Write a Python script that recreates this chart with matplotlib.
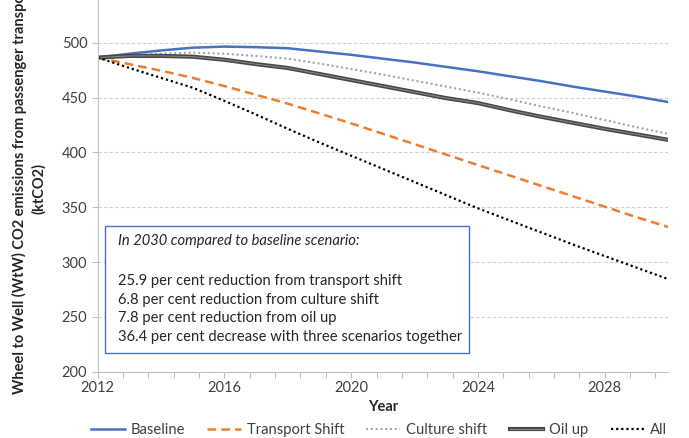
import numpy as np
import matplotlib
matplotlib.use('Agg')
import matplotlib.pyplot as plt
import matplotlib.patheffects as pe
from matplotlib.patches import Rectangle

plt.rcParams['font.family'] = ['Lato', 'DejaVu Sans']

# ── data ──────────────────────────────────────────────────────────────────────
years = list(range(2012, 2031))

baseline = [486.5, 490, 493, 495.5, 496.5, 496, 495, 492, 489, 485.5,
            482, 478, 474, 469.5, 465, 460, 455.5, 451, 446]
transport_shift = [486.5, 480.5, 474.5, 468, 460.5, 452.5, 444.5, 435.5, 426.5,
                   417, 407.5, 398, 388.5, 379, 369.5, 360, 350.5, 341, 332]
culture_shift = [486.5, 488.5, 490, 491, 490, 488, 485.5, 481, 476, 471,
                 465.5, 460, 454.5, 448.5, 442, 436, 429.5, 423, 417]
oil_up = [486.5, 488, 488, 487.3, 484.5, 480.5, 477, 471.5, 466, 460.5,
          455, 449.5, 445, 438.5, 432.5, 427, 421.5, 416.5, 411.5]
all_three = [486.5, 477, 468, 459, 447, 434.5, 421.5, 409, 397, 385,
             373, 361, 349, 338, 327, 316, 305.5, 295, 284.5]

y_ticks = [200, 250, 300, 350, 400, 450, 500]
x_labels = [2012, 2016, 2020, 2024, 2028]

note_title = 'In 2030 compared to baseline scenario:'
note_lines = ['25.9 per cent reduction from transport shift',
              '6.8 per cent reduction from culture shift',
              '7.8 per cent reduction from oil up',
              '36.4 per cent decrease with three scenarios together']

# ── figure ────────────────────────────────────────────────────────────────────
W, H = 689, 438
fig = plt.figure(figsize=(W / 100, H / 100), dpi=100)
ax = fig.add_axes([97.7 / W, 1 - 371.7 / H, (668 - 97.7) / W, 371.7 / H])

ax.plot(years, baseline, color='#4472C4', linewidth=1.8, label='Baseline')
ax.plot(years, transport_shift, color='#ED7D31', linewidth=1.8,
        linestyle=(0, (3.5, 2)), label='Transport Shift')
ax.plot(years, culture_shift, color='#A5A5A5', linewidth=1.5,
        linestyle=(0, (1, 1.3)), label='Culture shift')
ax.plot(years, oil_up, color='#8a8a8a', linewidth=0.7, label='Oil up',
        path_effects=[pe.Stroke(linewidth=3.0, foreground='#484848'),
                      pe.Normal()])
ax.plot(years, all_three, color='black', linewidth=1.6,
        linestyle=(0, (1, 1.3)), label='All')

ax.set_xlim(2012, 2030)
ax.set_ylim(200, 539)

# ticks every 0.8 year, labels every 4 years (as in the original)
xt = np.arange(2012, 2030.01, 0.8)
ax.set_xticks(xt)
ax.set_xticklabels([str(int(round(t))) if abs(t - round(t)) < 1e-6
                    and round(t) in x_labels else '' for t in xt])
ax.set_yticks(y_ticks)
ax.tick_params(axis='both', colors='#bfbfbf', length=4, width=0.8,
               labelcolor='#404040', labelsize=10.5)
ax.tick_params(axis='x', pad=3)

for y in y_ticks[1:]:
    ax.axhline(y, color='#d0d0d0', linewidth=0.8, linestyle=(0, (3, 2)),
               zorder=0)

ax.spines[['top', 'right']].set_visible(False)
ax.spines['left'].set_color('#bfbfbf')
ax.spines['bottom'].set_color('#bfbfbf')

ax.set_xlabel('Year', fontweight='bold', fontsize=10.5, color='#262626',
              labelpad=3)
fig.text(29 / W, 1 - 189 / H,
         'Wheel to Well (WtW) CO2 emissions from passenger transport\n(ktCO2)',
         rotation=90, ha='center', va='center', multialignment='center',
         fontsize=10.5, fontweight='bold', color='#262626', linespacing=1.45)

# note box
fig.patches.append(Rectangle((105 / W, 1 - 353 / H), (469 - 105) / W,
                             (353 - 226) / H, transform=fig.transFigure,
                             facecolor='white', edgecolor='#4472C4',
                             linewidth=1.0, zorder=3))
fig.text(118 / W, 1 - 241 / H, note_title, style='italic', fontsize=10.6,
         va='center', color='#262626', zorder=4)
for i, line in enumerate(note_lines):
    fig.text(118 / W, 1 - (281 + 18.7 * i) / H, line, fontsize=10.6,
             va='center', color='#262626', zorder=4)

fig.legend(loc='center', bbox_to_anchor=(379 / W, 1 - 430 / H), ncol=5,
           frameon=False, fontsize=10.6, handlelength=2.3, columnspacing=1.5,
           handletextpad=0.4, labelcolor='#404040')

fig.savefig('out.png', dpi=100)
